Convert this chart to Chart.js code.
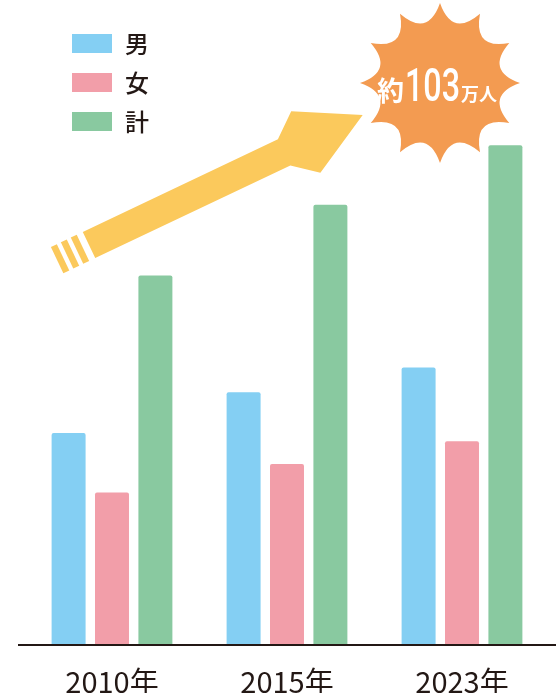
<!DOCTYPE html>
<html>
<head>
<meta charset="utf-8">
<script src="https://cdn.jsdelivr.net/npm/chart.js@4/dist/chart.umd.min.js"></script>
<style>
  html, body { margin: 0; padding: 0; background: #fff; }
  #wrap { width: 556px; height: 693px; }
</style>
</head>
<body>
<div id="wrap"><canvas id="chart" width="556" height="693"></canvas></div>
<script>
// values in 万人
const years = ['2010年', '2015年', '2023年'];
const seriesNames = ['男', '女', '計'];
const male = [43.6, 52.0, 57.1];
const female = [31.3, 37.2, 41.9];
const total = [76.1, 90.7, 103.0];
const callout = ['約', '103', '万人'];

const colors = ['#84cff3', '#f29ea9', '#89c9a0'];
const ink = '#231815';
const jp = '"Noto Sans CJK JP", "Noto Sans", sans-serif';

// baseline, legend, arrow and the starburst are drawn by hand on top
const deco = {
  id: 'deco',
  afterDraw(chart) {
    const ctx = chart.ctx;
    const area = chart.chartArea;
    ctx.save();

    // baseline runs past the plot area on both sides
    ctx.fillStyle = ink;
    ctx.fillRect(18, area.bottom, chart.width - 18, 2);

    // legend
    chart.data.datasets.forEach((ds, i) => {
      const y = 34 + i * 39;
      ctx.fillStyle = ds.backgroundColor;
      ctx.fillRect(72, y, 40, 19);
      ctx.fillStyle = ink;
      ctx.font = '500 24px ' + jp;
      ctx.textBaseline = 'middle';
      ctx.textAlign = 'left';
      ctx.fillText(ds.label, 125, y + 10);
    });

    // yellow arrow
    ctx.save();
    ctx.translate(89, 245);
    ctx.rotate(-25.4 * Math.PI / 180);
    ctx.fillStyle = '#fbc95c';
    ctx.beginPath();
    ctx.moveTo(0, -14.5);
    ctx.lineTo(216, -14.5);
    ctx.lineTo(240, -34);
    ctx.lineTo(303, 0);
    ctx.lineTo(240, 34);
    ctx.lineTo(216, 14.5);
    ctx.lineTo(0, 14.5);
    ctx.closePath();
    ctx.fill();
    [-10, -21, -32].forEach(c => ctx.fillRect(c - 3.3, -14.5, 6.6, 29));
    ctx.restore();

    // starburst
    const cx = 440, cy = 83, R = 80, rc = 47, n = 12;
    ctx.fillStyle = '#f39b51';
    ctx.beginPath();
    for (let i = 0; i < n; i++) {
      const a0 = -Math.PI / 2 + i * 2 * Math.PI / n;
      const am = a0 + Math.PI / n;
      const a1 = a0 + 2 * Math.PI / n;
      if (i === 0) ctx.moveTo(cx + R * Math.cos(a0), cy + R * Math.sin(a0));
      ctx.quadraticCurveTo(cx + rc * Math.cos(am), cy + rc * Math.sin(am),
                           cx + R * Math.cos(a1), cy + R * Math.sin(a1));
    }
    ctx.closePath();
    ctx.fill();

    ctx.fillStyle = '#fff';
    ctx.textBaseline = 'alphabetic';
    ctx.textAlign = 'left';
    ctx.font = 'bold 27px ' + jp;
    ctx.fillText(callout[0], 377, 101);
    ctx.save();
    ctx.font = '500 46px Roboto, sans-serif';
    const w = ctx.measureText(callout[1]).width;
    ctx.translate(405, 101);
    ctx.scale(55 / w, 1);
    ctx.fillText(callout[1], 0, 0);
    ctx.restore();
    ctx.font = 'bold 18px ' + jp;
    ctx.fillText(callout[2], 461, 101);

    ctx.restore();
  }
};

const barOpts = {
  categoryPercentage: 0.744,
  barPercentage: 0.783,
  borderRadius: { topLeft: 2, topRight: 2 },
  borderSkipped: 'bottom'
};

new Chart(document.getElementById('chart'), {
  type: 'bar',
  data: {
    labels: years,
    datasets: [
      { label: seriesNames[0], data: male, backgroundColor: colors[0], ...barOpts },
      { label: seriesNames[1], data: female, backgroundColor: colors[1], ...barOpts },
      { label: seriesNames[2], data: total, backgroundColor: colors[2], ...barOpts }
    ]
  },
  options: {
    responsive: false,
    devicePixelRatio: 1,
    animation: false,
    layout: { padding: { left: 24.5, right: 6.5, top: 111.4, bottom: 0 } },
    plugins: { legend: { display: false }, tooltip: { enabled: false } },
    scales: {
      x: {
        grid: { display: false, drawTicks: false },
        border: { display: false },
        ticks: { color: ink, font: { family: jp, size: 29 }, padding: 21, maxRotation: 0 },
        afterFit(scale) { scale.height = 49; }
      },
      y: {
        display: false,
        min: 0,
        max: 110
      }
    }
  },
  plugins: [deco]
});
</script>
</body>
</html>
